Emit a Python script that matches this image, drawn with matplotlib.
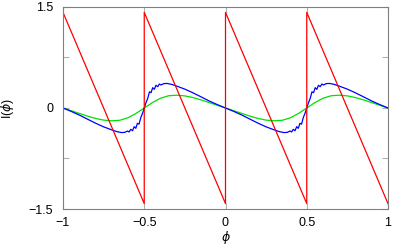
import matplotlib
matplotlib.use("Agg")
import matplotlib.pyplot as plt

plt.rcParams['font.family'] = ['Liberation Sans', 'DejaVu Sans']
plt.rcParams['mathtext.fontset'] = 'dejavusans'

# Red sawtooth
red_phi = [-1.0, -0.5, -0.5, 0.0, 0.0, 0.5, 0.5, 1.0]
red_I = [1.42, -1.42, 1.42, -1.42, 1.42, -1.42, 1.42, -1.42]

# Blue curve
blue_phi = [-1.0, -0.95, -0.9, -0.85, -0.8, -0.75, -0.7, -0.67, -0.64, -0.62,
            -0.603, -0.593, -0.583, -0.572, -0.562, -0.552, -0.542, -0.532, -0.521, -0.51,
            -0.5, -0.49, -0.479, -0.468, -0.458, -0.448, -0.438, -0.428, -0.417, -0.407,
            -0.397, -0.38, -0.36, -0.33, -0.3, -0.25, -0.2, -0.15, -0.1, -0.05,
            0.0, 0.05, 0.1, 0.15, 0.2, 0.25, 0.3, 0.33, 0.36, 0.38,
            0.397, 0.407, 0.417, 0.428, 0.438, 0.448, 0.458, 0.468, 0.479, 0.49,
            0.5, 0.51, 0.521, 0.532, 0.542, 0.552, 0.562, 0.572, 0.583, 0.593,
            0.603, 0.62, 0.64, 0.67, 0.7, 0.75, 0.8, 0.85, 0.9, 0.95, 1.0]
blue_I = [0.0, -0.05, -0.104, -0.165, -0.225, -0.28, -0.325, -0.35, -0.365, -0.362,
          -0.342, -0.356, -0.317, -0.337, -0.277, -0.302, -0.228, -0.24, -0.14, -0.075,
          0.0, 0.075, 0.14, 0.24, 0.228, 0.302, 0.277, 0.337, 0.317, 0.356,
          0.342, 0.362, 0.365, 0.35, 0.325, 0.28, 0.225, 0.165, 0.104, 0.05,
          0.0, -0.05, -0.104, -0.165, -0.225, -0.28, -0.325, -0.35, -0.365, -0.362,
          -0.342, -0.356, -0.317, -0.337, -0.277, -0.302, -0.228, -0.24, -0.14, -0.075,
          0.0, 0.075, 0.14, 0.24, 0.228, 0.302, 0.277, 0.337, 0.317, 0.356,
          0.342, 0.362, 0.365, 0.35, 0.325, 0.28, 0.225, 0.165, 0.104, 0.05, 0.0]

# Green curve
green_phi = [-1.0, -0.95, -0.9, -0.85, -0.8, -0.75, -0.7, -0.65, -0.6, -0.55,
             -0.5, -0.45, -0.4, -0.35, -0.3, -0.25, -0.2, -0.15, -0.1, -0.05,
             0.0, 0.05, 0.1, 0.15, 0.2, 0.25, 0.3, 0.35, 0.4, 0.45,
             0.5, 0.55, 0.6, 0.65, 0.7, 0.75, 0.8, 0.85, 0.9, 0.95, 1.0]
green_I = [0.0, -0.04, -0.08, -0.12, -0.155, -0.18, -0.19, -0.182, -0.145, -0.08,
           0.0, 0.08, 0.145, 0.182, 0.19, 0.18, 0.155, 0.12, 0.08, 0.04,
           0.0, -0.04, -0.08, -0.12, -0.155, -0.18, -0.19, -0.182, -0.145, -0.08,
           0.0, 0.08, 0.145, 0.182, 0.19, 0.18, 0.155, 0.12, 0.08, 0.04, 0.0]

x_ticks = [-1, -0.5, 0, 0.5, 1]
x_ticklabels = ['\u22121', '\u22120.5', '0', '0.5', '1']
y_ticks = [-1.5, -0.75, 0, 0.75, 1.5]
y_ticklabels = ['\u22121.5', '', '0', '', '1.5']

fig = plt.figure(figsize=(4.0, 2.47), dpi=100)
ax = fig.add_axes([63/400, 1 - 209/247, (388 - 63)/400, (209 - 7)/247])

ax.plot(green_phi, green_I, color='#00e000', lw=0.9)
ax.plot(blue_phi, blue_I, color='#0000ff', lw=0.9)
ax.plot(red_phi, red_I, color='#ff0000', lw=0.9)

ax.set_xlim(-1, 1)
ax.set_ylim(-1.5, 1.5)
ax.set_xticks(x_ticks)
ax.set_xticklabels(x_ticklabels)
ax.set_yticks(y_ticks)
ax.set_yticklabels(y_ticklabels)
ax.tick_params(direction='in', length=4.5, width=0.8, color='#b0b0b0',
               labelsize=9, top=True, right=True, labelcolor='black')
ax.tick_params(axis='y', pad=7)
ax.tick_params(axis='x', pad=5.5)
for s in ax.spines.values():
    s.set_color('#808080')
    s.set_linewidth(0.8)

ax.set_xlabel(r'$\phi$', fontsize=9, labelpad=0.5)
ax.set_ylabel(r'I($\phi$)', fontsize=9, labelpad=9)

fig.savefig('out.png', dpi=100)
